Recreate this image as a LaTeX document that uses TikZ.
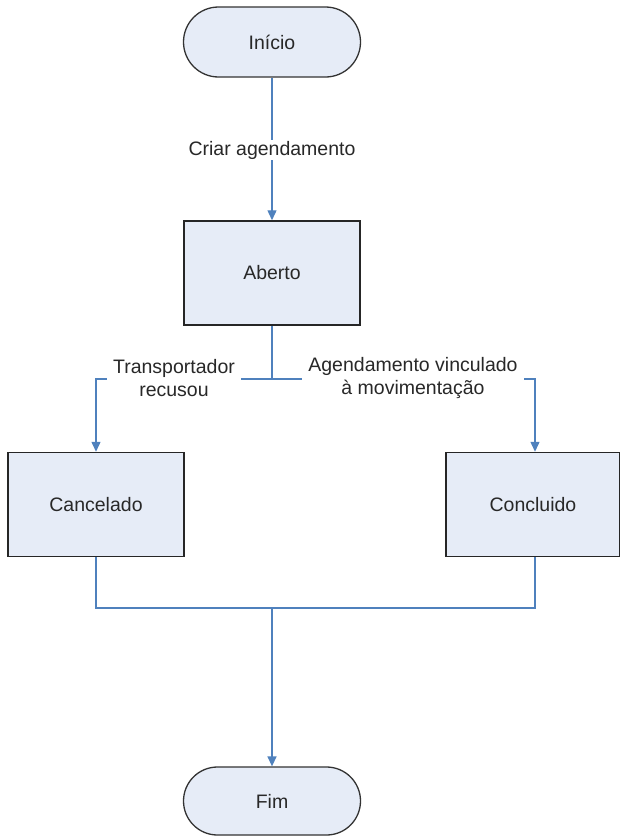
\documentclass[tikz,border=0pt]{standalone}
\usepackage{fontspec}
\setmainfont{Liberation Sans}
\usetikzlibrary{arrows.meta,shapes.misc}
\definecolor{lineblue}{RGB}{79,129,189}
\definecolor{boxfill}{RGB}{230,236,247}
\definecolor{textgray}{RGB}{40,40,40}
\begin{document}
\begin{tikzpicture}[x=1pt,y=-1pt,
  font=\fontsize{19.5}{23.5}\selectfont,
  every node/.style={text=textgray},
  terminal/.style={rounded rectangle, draw=black!80, line width=1.3pt, fill=boxfill, minimum width=177pt, minimum height=70pt, inner sep=0pt},
  statebox/.style={rectangle, draw=black!85, line width=1.5pt, fill=boxfill, minimum width=176pt, minimum height=104pt, inner sep=0pt},
  conn/.style={draw=lineblue, line width=1.4pt},
  arr/.style={conn, -{Triangle[width=9pt,length=10pt]}},
  lbl/.style={fill=white, inner sep=1pt, align=center}
]
\useasboundingbox (0,0) rectangle (619,838);
\node[terminal] (inicio) at (272,42) {Início};
\node[statebox] (aberto) at (272,273) {Aberto};
\node[statebox] (cancelado) at (96,504.5) {Cancelado};
\node[statebox, minimum width=174pt] (concluido) at (533,504.5) {Concluido};
\node[terminal, minimum height=68pt] (fim) at (272,801) {Fim};

\coordinate (split) at (272,379);
\coordinate (sl) at (96,379);
\coordinate (sr) at (535,379);
\coordinate (join) at (272,608);
\coordinate (jl) at (96,608);
\coordinate (jr) at (535,608);

\draw[arr] (inicio.south) -- (aberto.north);
\node[lbl] (criar) at (272,150) {Criar agendamento};

\draw[conn] (aberto.south) -- (split);
\draw[arr] (split) -- (sl) -- (cancelado.north);
\draw[arr] (split) -- (sr) -- (sr |- concluido.north);
\node[lbl, inner xsep=6pt] (trans) at (174,378) {Transportador\\recusou};
\node[lbl, inner xsep=6pt] (agend) at (413,378) {Agendamento vinculado\\à movimentação};

\draw[conn] (cancelado.south) -- (jl) -- (jr) -- (sr |- concluido.south);
\draw[arr] (join) -- (fim.north);
\end{tikzpicture}
\end{document}
